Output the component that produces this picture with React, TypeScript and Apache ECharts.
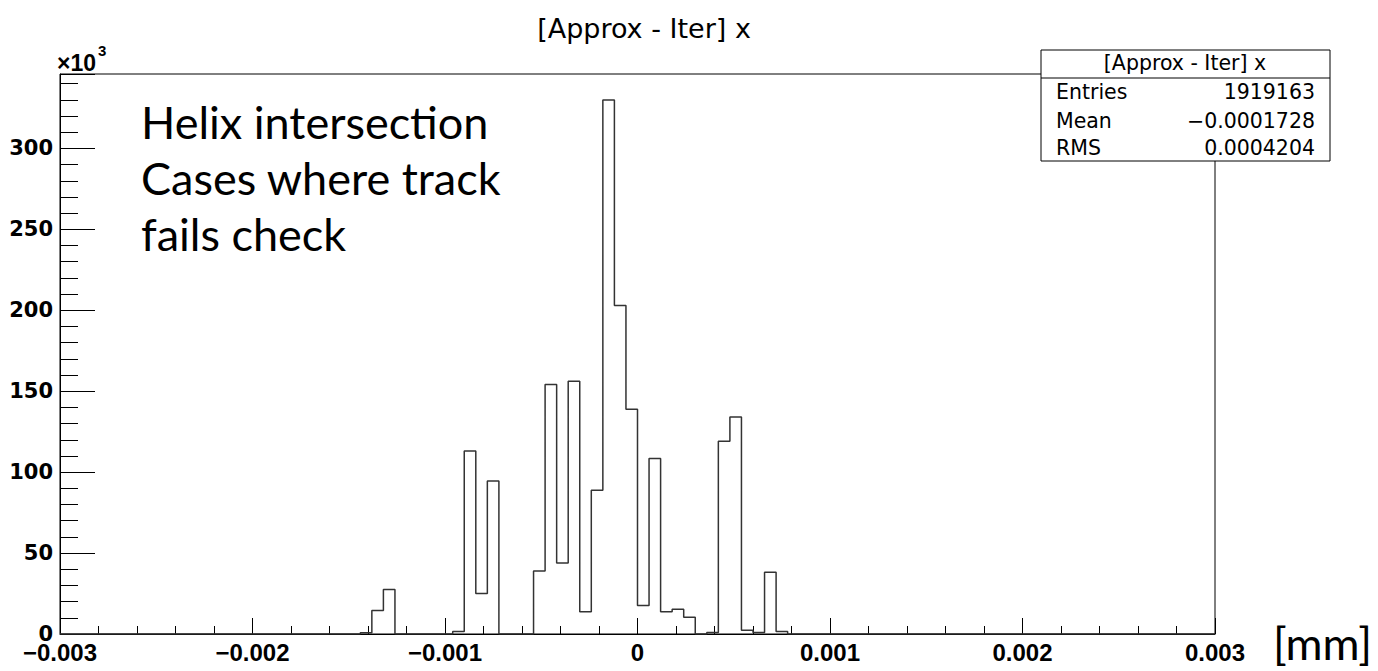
import React, { useEffect, useRef } from "react";
import * as echarts from "echarts";

// Histogram "[Approx - Iter] x": 100 bins from -0.003 to 0.003 mm
const X_MIN = -0.003;
const X_MAX = 0.003;
const N_BINS = 100;

const binCounts: number[] = [
  0, 0, 0, 0, 0, 0, 0, 0, 0, 0,
  0, 0, 0, 0, 0, 0, 0, 0, 0, 0,
  0, 0, 0, 0, 0, 0, 800, 14500, 27500, 0,
  0, 0, 0, 0, 1500, 113000, 25000, 94600, 0, 0,
  0, 39000, 154200, 43800, 156100, 13700, 88800, 330000, 202900, 138900,
  17600, 108400, 13700, 15300, 10400, 0, 1000, 119100, 134000, 2300,
  1000, 38200, 1500, 0, 0, 0, 0, 0, 0, 0,
  0, 0, 0, 0, 0, 0, 0, 0, 0, 0,
  0, 0, 0, 0, 0, 0, 0, 0, 0, 0,
  0, 0, 0, 0, 0, 0, 0, 0, 0, 0,
];

const TITLE = "[Approx - Iter] x";
const statsLabels = ["Entries", "Mean", "RMS"];
const statsValues = ["1919163", "\u22120.0001728", "0.0004204"];
const annotationLines = ["Helix intersection", "Cases where track", "fails check"];
const UNIT = "[mm]";

const ROOT_FONT = "'DejaVu Sans', 'Liberation Sans', Arial, sans-serif";
const ARIAL = "'Liberation Sans', Arial, sans-serif";

export default function App() {
  const ref = useRef<HTMLDivElement>(null);

  useEffect(() => {
    if (!ref.current) return;
    const chart = echarts.init(ref.current, null, { renderer: "svg" });
    const binWidth = (X_MAX - X_MIN) / N_BINS;
    const stepData: [number, number][] = binCounts.map((c, i) => [X_MIN + i * binWidth, c]);
    stepData.push([X_MAX, binCounts[N_BINS - 1]]);

    const fmtX = (v: number) => {
      if (Math.abs(v) < 1e-12) return "0";
      const s = Math.abs(v).toFixed(3);
      return v < 0 ? "\u2212" + s : s;
    };

    const txt = (
      text: string,
      x: number,
      y: number,
      font: string,
      align: string,
      z = 100
    ) => ({
      type: "text",
      x,
      y,
      z,
      style: {
        text,
        font,
        fill: "#000",
        align,
        verticalAlign: "middle",
        textAlign: align,
        textVerticalAlign: "middle",
      },
    });

    const els: any[] = [];
    els.push(txt(TITLE, 644, 28, `27px ${ROOT_FONT}`, "center"));
    els.push(txt("\u00d710", 57, 63, `bold 23px ${ARIAL}`, "left"));
    els.push(txt("3", 98, 50, `bold 15px ${ARIAL}`, "left"));
    // stats box
    els.push({
      type: "rect",
      z: 100,
      shape: { x: 1041, y: 50, width: 289, height: 111 },
      style: { fill: "#fff", stroke: "#000", lineWidth: 1 },
    });
    els.push({
      type: "line",
      z: 101,
      shape: { x1: 1041, y1: 78, x2: 1330, y2: 78 },
      style: { stroke: "#000", lineWidth: 1 },
    });
    els.push(txt(TITLE, 1185, 63, `20.5px ${ROOT_FONT}`, "center", 102));
    const rowY = [92, 121, 148];
    statsLabels.forEach((lab, i) => {
      els.push(txt(lab, 1056, rowY[i], `20.5px ${ROOT_FONT}`, "left", 102));
      els.push(txt(statsValues[i], 1315, rowY[i], `20.5px ${ROOT_FONT}`, "right", 102));
    });
    annotationLines.forEach((line, i) => {
      els.push(txt(line, 141, 122 + i * 56, `45px Lato, 'Open Sans', sans-serif`, "left"));
    });
    els.push(txt(UNIT, 1273, 643, `45px Lato, 'Open Sans', sans-serif`, "left"));

    chart.setOption({
      animation: false,
      backgroundColor: "#fff",
      grid: {
        left: 60,
        right: 163,
        top: 74,
        bottom: 37,
        show: true,
        borderColor: "#000",
        borderWidth: 1,
        backgroundColor: "transparent",
      },
      xAxis: {
        type: "value",
        min: X_MIN,
        max: X_MAX,
        interval: 0.001,
        axisLine: { show: true, onZero: false, lineStyle: { color: "#000", width: 1 } },
        axisTick: { show: true, inside: true, length: 16, lineStyle: { color: "#000", width: 1 } },
        minorTick: { show: true, splitNumber: 5, length: 8, lineStyle: { color: "#000", width: 1 } },
        splitLine: { show: false },
        axisLabel: {
          show: true,
          margin: 6,
          showMinLabel: true,
          showMaxLabel: true,
          color: "#000",
          fontFamily: ARIAL,
          fontWeight: "bold",
          fontSize: 24,
          formatter: fmtX,
        },
      },
      yAxis: {
        type: "value",
        min: 0,
        max: 346000,
        interval: 50000,
        axisLine: { show: true, onZero: false, lineStyle: { color: "#000", width: 1 } },
        axisTick: { show: true, inside: true, length: 35, lineStyle: { color: "#000", width: 1 } },
        minorTick: { show: true, splitNumber: 5, length: 18, lineStyle: { color: "#000", width: 1 } },
        splitLine: { show: false },
        axisLabel: {
          show: true,
          margin: 7,
          showMinLabel: true,
          showMaxLabel: false,
          color: "#000",
          fontFamily: ROOT_FONT,
          fontWeight: "bold",
          fontSize: 21,
          formatter: (v: number) => String(Math.round(v / 1000)),
        },
      },
      series: [
        {
          type: "line",
          step: "end",
          data: stepData,
          symbol: "none",
          lineStyle: { color: "#333", width: 1.5 },
          clip: true,
        },
      ],
      graphic: els,
    });

    return () => chart.dispose();
  }, []);

  return (
    <div
      ref={ref}
      style={{ position: "absolute", left: 0, top: 0, width: 1378, height: 671 }}
    />
  );
}
